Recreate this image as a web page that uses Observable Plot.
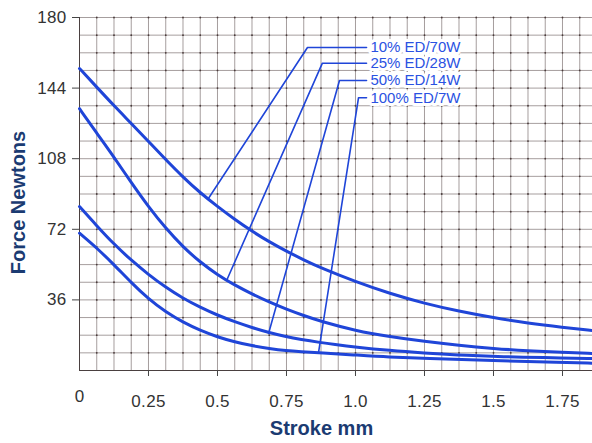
<!DOCTYPE html>
<html>
<head>
<meta charset="utf-8">
<script src="https://cdn.jsdelivr.net/npm/d3@7"></script>
<script src="https://cdn.jsdelivr.net/npm/@observablehq/plot@0.6"></script>
<style>
  html, body { margin: 0; padding: 0; background: #fff; }
  #chart { width: 592px; height: 443px; }
  #chart svg g[aria-label="y-axis tick label"],
  #chart svg g[aria-label="y-axis tick label"] text {
    font-size: 17px !important; letter-spacing: 0.3px; fill: #333;
  }
  #chart svg g[aria-label="x-axis tick label"],
  #chart svg g[aria-label="x-axis tick label"] text {
    font-size: 17px !important; letter-spacing: 0.3px; fill: #333;
  }
</style>
</head>
<body>
<div id="chart"></div>
<script>
// ---- Data ----
const seriesNames = ["10% ED/70W", "25% ED/28W", "50% ED/14W", "100% ED/7W"];

const stroke10 = [0, 0.0625, 0.125, 0.1875, 0.25, 0.3125, 0.375, 0.4375, 0.5, 0.5625, 0.625, 0.6875, 0.75, 0.8125, 0.875, 1.0, 1.125, 1.25, 1.375, 1.5, 1.625, 1.75, 1.86];
const force10  = [154, 144.5, 135, 126, 116.8, 107.5, 98.6, 90.6, 83.6, 77, 71, 65.6, 60.8, 56.4, 52.3, 45.3, 39.2, 34.2, 30.2, 26.9, 24.1, 22, 20.4];

const stroke25 = [0, 0.0625, 0.125, 0.1875, 0.25, 0.3125, 0.375, 0.4375, 0.5, 0.5625, 0.625, 0.6875, 0.75, 0.8125, 0.875, 1.0, 1.125, 1.25, 1.375, 1.5, 1.625, 1.75, 1.86];
const force25  = [133.5, 121, 108.8, 95.8, 83.5, 72.5, 63, 55.2, 48.8, 43.5, 39, 34.9, 31.2, 28, 25, 20.3, 17.2, 14.8, 12.8, 11.2, 10, 9.2, 8.7];

const stroke50 = [0, 0.0625, 0.125, 0.1875, 0.25, 0.3125, 0.375, 0.4375, 0.5, 0.5625, 0.625, 0.6875, 0.75, 0.8, 0.875, 0.921, 1.0, 1.122, 1.25, 1.37, 1.5, 1.6, 1.75, 1.86];
const force50  = [83.6, 73.8, 64.4, 56.2, 48.9, 42.4, 36.8, 32.2, 28.2, 24.8, 21.9, 19.3, 17.2, 15.9, 14.2, 13.3, 11.9, 10.2, 8.9, 7.9, 7.2, 6.8, 6.4, 6.1];

const stroke100 = [0, 0.0625, 0.125, 0.1875, 0.25, 0.3125, 0.375, 0.4375, 0.5, 0.5625, 0.625, 0.6875, 0.75, 0.8, 0.875, 1.0, 1.122, 1.25, 1.5, 1.75, 1.86];
const force100  = [70, 62.5, 54, 44.8, 36.5, 29.8, 24.6, 20.4, 17.1, 14.6, 12.6, 11.2, 10.1, 9.6, 9, 7.9, 6.8, 6.2, 5, 4.1, 3.7];

// leader lines: label end -> elbow -> point on curve (mm, N)
const leaderStart = [1.04, 1.04, 1.04, 1.04];
const leaderElbowX = [0.826, 0.880, 0.942, 1.011];
const leaderLabelY = [164.7, 156.7, 147.9, 139.1];
const leaderEndX = [0.467, 0.533, 0.685, 0.866];
const leaderEndY = [87.7, 45.9, 18.9, 9.1];
const labelX = 1.054;

const yTickValues = [36, 72, 108, 144, 180];
const xTickValues = [0.25, 0.5, 0.75, 1.0, 1.25, 1.5, 1.75];
const xTickLabels = ["0.25", "0.5", "0.75", "1.0", "1.25", "1.5", "1.75"];
const xZeroLabel = ["0"];

const yTitle = "Force Newtons";
const xTitle = "Stroke mm";

const xMax = 1.8587;
const yMax = 180;

// ---- Build tables ----
const strokes = [stroke10, stroke25, stroke50, stroke100];
const forces = [force10, force25, force50, force100];
const curves = [];
seriesNames.forEach((name, i) => {
  strokes[i].forEach((s, j) => curves.push({series: name, stroke: s, force: forces[i][j]}));
});
const leaders = [];
seriesNames.forEach((name, i) => {
  leaders.push({series: name, x: leaderStart[i], y: leaderLabelY[i]});
  leaders.push({series: name, x: leaderElbowX[i], y: leaderLabelY[i]});
  leaders.push({series: name, x: leaderEndX[i], y: leaderEndY[i]});
});
const labels = seriesNames.map((name, i) => ({name, y: leaderLabelY[i]}));

const gridX = d3.range(0.0625, xMax, 0.0625);
const gridY = d3.range(9, yMax + 1, 9);
const gridPts = [];
gridX.forEach(x => gridY.forEach(y => gridPts.push({x, y})));

const blue = "#1f45d8";
const gridColor = "#6a5c5c";
const navy = "#1b3b72";

const chart = Plot.plot({
  width: 592,
  height: 443,
  marginTop: 17,
  marginBottom: 73,
  marginLeft: 79,
  marginRight: 0,
  style: {fontFamily: "'Liberation Sans', Arial, sans-serif", fontSize: "15px", background: "#fff", overflow: "visible"},
  x: {domain: [0, xMax]},
  y: {domain: [0, yMax]},
  marks: [
    Plot.ruleX(gridX, {y1: 0, y2: yMax, stroke: gridColor, strokeWidth: 0.8, strokeOpacity: 0.75}),
    Plot.ruleY(gridY, {x1: 0, x2: xMax, stroke: gridColor, strokeWidth: 0.8, strokeOpacity: 0.75}),
    Plot.dot(gridPts, {x: "x", y: "y", r: 0.9, fill: "#4a3c3c", stroke: null}),
    Plot.ruleX([0], {y1: 0, y2: yMax, stroke: "#4a4040", strokeWidth: 1}),
    Plot.ruleY([0], {x1: 0, x2: xMax, stroke: "#4a4040", strokeWidth: 1}),
    Plot.axisY({ticks: yTickValues, tickSize: 7, tickPadding: 6, label: null, fontSize: 17, fill: "#333", stroke: "#444"}),
    Plot.axisX({ticks: xTickValues, tickFormat: (d, i) => xTickLabels[i], tickSize: 6, tickPadding: 18, label: null, fontSize: 17, fill: "#333", stroke: "#444"}),
    Plot.axisX({ticks: [0], tickFormat: () => xZeroLabel[0], tickSize: 0, tickPadding: 19, label: null, fontSize: 17, fill: "#333"}),
    Plot.line(curves, {x: "stroke", y: "force", z: "series", stroke: blue, strokeWidth: 3, curve: "basis"}),
    Plot.line(leaders, {x: "x", y: "y", z: "series", stroke: blue, strokeWidth: 1.6}),
    Plot.text(labels, {x: labelX, y: "y", text: "name", textAnchor: "start", fontSize: 15, fill: "#2a52e2", stroke: "#fff", strokeWidth: 6, paintOrder: "stroke", letterSpacing: "0.9px"}),
    Plot.text([yTitle], {frameAnchor: "left", dx: -61, dy: 8.5, rotate: -90, textAnchor: "middle", fontSize: 20, fontWeight: "bold", fill: navy}),
    Plot.text([xTitle], {frameAnchor: "bottom", dx: -14.5, dy: 64, textAnchor: "middle", fontSize: 20, fontWeight: "bold", fill: navy})
  ]
});
document.getElementById("chart").appendChild(chart);
</script>
</body>
</html>
